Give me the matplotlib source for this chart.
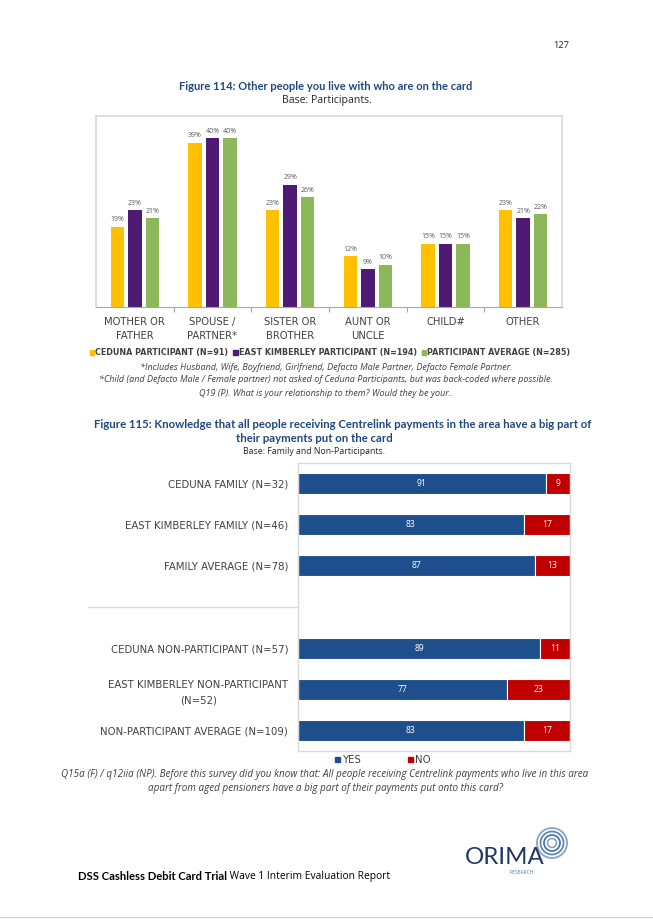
import matplotlib
matplotlib.use("Agg")
import matplotlib.pyplot as plt
from matplotlib.patches import Patch, Circle
import numpy as np

plt.rcParams['font.family'] = ['Open Sans', 'DejaVu Sans']
CAPS = ["DejaVu Sans"]
BOLD = ["Lato", "DejaVu Sans"]

# ---------------- data: Figure 114 ----------------
categories_114 = ["MOTHER OR\nFATHER", "SPOUSE /\nPARTNER*", "SISTER OR\nBROTHER",
                  "AUNT OR\nUNCLE", "CHILD#", "OTHER"]
ceduna_part = [19, 39, 23, 12, 15, 23]
ek_part = [23, 40, 29, 9, 15, 21]
part_avg = [21, 40, 26, 10, 15, 22]
series_114 = ["CEDUNA PARTICIPANT (N=91)", "EAST KIMBERLEY PARTICIPANT (N=194)",
              "PARTICIPANT AVERAGE (N=285)"]

# ---------------- data: Figure 115 ----------------
groups_115 = ["CEDUNA FAMILY (N=32)", "EAST KIMBERLEY FAMILY (N=46)", "FAMILY AVERAGE (N=78)",
              "CEDUNA NON-PARTICIPANT (N=57)", "EAST KIMBERLEY NON-PARTICIPANT\n(N=52)",
              "NON-PARTICIPANT AVERAGE (N=109)"]
slots_115 = [0, 1, 2, 4, 5, 6]
yes_115 = [91, 83, 87, 89, 77, 83]
no_115 = [9, 17, 13, 11, 23, 17]
series_115 = ["YES", "NO"]

W, H = 653, 923
fig = plt.figure(figsize=(W / 100, H / 100), dpi=100)
fig.patch.set_facecolor("white")
renderer = fig.canvas.get_renderer()

def px_axes(l, t, r, b):
    return fig.add_axes([l / W, 1 - b / H, (r - l) / W, (b - t) / H])

def fit(t, target):
    w = t.get_window_extent(renderer).width
    t.set_fontsize(t.get_fontsize() * target / w)
    return t

def scale_for(s, target, fs=7, **kw):
    t = fig.text(0, 0, s, fontsize=fs, **kw)
    w = t.get_window_extent(renderer).width
    t.remove()
    return fs * target / w

TITLE_C = "#1F497D"
GRID_C = "#D9D9D9"
TXT_C = "#404040"
YEL, PUR, GRN = "#FFC000", "#4E1A73", "#8DB85A"
BLUE, RED = "#1F4E8C", "#C00000"

cat_fs = scale_for("MOTHER OR", 62, family=CAPS)
row_fs = scale_for("NON-PARTICIPANT AVERAGE (N=109)", 188, family=CAPS)
val_fs = scale_for("39%", 14)
bar_fs = scale_for("91", 10)

# ---------------- Figure 114 chart ----------------
ax1 = px_axes(96, 116, 562, 307)
x = np.arange(len(categories_114))
bw = 0.175
offs = [-0.225, 0.0, 0.225]
cols = [YEL, PUR, GRN]
for vals, off, c in zip([ceduna_part, ek_part, part_avg], offs, cols):
    ax1.bar(x + off, vals, width=bw, color=c, zorder=2)
    for xi, v in zip(x + off, vals):
        ax1.annotate(f"{v}%", (xi, v), xytext=(0, 2.5), textcoords="offset points",
                     ha="center", va="bottom", fontsize=val_fs, color="#595959")
ax1.set_xlim(-0.5, len(categories_114) - 0.5)
ax1.set_ylim(0, 45.3)
ax1.set_yticks([])
ax1.set_xticks(x)
ax1.set_xticklabels(categories_114, fontsize=cat_fs, color=TXT_C, linespacing=1.55,
                    family=CAPS)
ax1.tick_params(axis="x", which="major", length=0, pad=7)
ax1.set_xticks(np.arange(0.5, len(categories_114) - 0.5, 1.0), minor=True)
ax1.tick_params(axis="x", which="minor", length=3.5, color="#A6A6A6", width=0.8, direction="out")
for s in ["top", "left", "right"]:
    ax1.spines[s].set_color(GRID_C)
    ax1.spines[s].set_linewidth(1.2)
ax1.spines["bottom"].set_color("#A6A6A6")
ax1.spines["bottom"].set_linewidth(0.8)

def make_leg1(fs):
    handles1 = [Patch(color=c, label=l) for c, l in zip(cols, series_114)]
    lg = fig.legend(handles=handles1, loc="center", bbox_to_anchor=(330 / W, 1 - 353 / H),
                    ncol=3, frameon=False, handlelength=0.55, handleheight=0.55,
                    prop={"family": CAPS, "size": fs, "weight": "bold"},
                    handletextpad=0.15, columnspacing=0.6, borderaxespad=0, borderpad=0)
    for t in lg.get_texts():
        t.set_color(TXT_C)
    return lg

leg1 = make_leg1(6.0)
w1 = leg1.get_window_extent(renderer).width
leg1.remove()
leg1 = make_leg1(6.0 * 485 / w1)

# ---------------- Figure 115 chart ----------------
ax2 = px_axes(298, 463, 570, 751)
ax2.barh(slots_115, yes_115, height=0.51, color=BLUE, edgecolor="white", linewidth=0.8, zorder=2)
ax2.barh(slots_115, no_115, left=yes_115, height=0.51, color=RED, edgecolor="white",
         linewidth=0.8, zorder=2)
for s, yv, nv in zip(slots_115, yes_115, no_115):
    ax2.text(yv / 2, s, f"{yv}", ha="center", va="center", color="white", fontsize=bar_fs)
    ax2.text(yv + nv / 2, s, f"{nv}", ha="center", va="center", color="white", fontsize=bar_fs)
ax2.set_xlim(0, 100)
ax2.set_ylim(6.5, -0.5)
ax2.set_xticks([])
ax2.set_yticks(slots_115)
ax2.set_yticklabels(groups_115, fontsize=row_fs, color=TXT_C, linespacing=1.6, family=CAPS)
for lbl in ax2.get_yticklabels():
    lbl.set_multialignment("center")
ax2.tick_params(axis="y", length=0, pad=7)
for s in ax2.spines.values():
    s.set_color(GRID_C)
    s.set_linewidth(1.0)

handles2 = [Patch(color=c, label=l) for c, l in zip([BLUE, RED], series_115)]
leg2 = fig.legend(handles=handles2, loc="center", bbox_to_anchor=(383 / W, 1 - 760 / H),
                  ncol=2, frameon=False, prop={"family": CAPS, "size": row_fs},
                  handlelength=0.5, handleheight=0.5,
                  handletextpad=0.25, columnspacing=4.6, borderaxespad=0, borderpad=0)
for t in leg2.get_texts():
    t.set_color(TXT_C)

# ---------------- page overlay (texts & decorations) ----------------
ov = fig.add_axes([0, 0, 1, 1], facecolor="none")
ov.set_xlim(0, W)
ov.set_ylim(H, 0)
ov.axis("off")

fit(ov.text(561, 45, "127", ha="center", va="center", fontsize=7.5, color="#262626"), 16)

fit(ov.text(326, 86, "Figure 114: Other people you live with who are on the card", ha="center",
            va="center", fontsize=7, fontweight="bold", color=TITLE_C, family=BOLD), 296)
fit(ov.text(327, 100, "Base: Participants.", ha="center", va="center", fontsize=6.3,
            color="#262626"), 90)

notes_114 = ["*Includes Husband, Wife, Boyfriend, Girlfriend, Defacto Male Partner, Defacto Female Partner.",
             "*Child (and Defacto Male / Female partner) not asked of Ceduna Participants, but was back-coded where possible.",
             "Q19 (P). What is your relationship to them? Would they be your.."]
note_fs = scale_for(notes_114[1], 453, style="italic")
for i, n in enumerate(notes_114):
    ov.text(326, 367 + 13 * i, n, ha="center", va="center", fontsize=note_fs, style="italic",
            color=TXT_C)

t115a = ov.text(343, 425, "Figure 115: Knowledge that all people receiving Centrelink payments in the area have a big part of",
                ha="center", va="center", fontsize=7, fontweight="bold", color=TITLE_C,
                family=BOLD)
fit(t115a, 503)
ov.text(314, 439, "their payments put on the card", ha="center", va="center",
        fontsize=t115a.get_fontsize(), fontweight="bold", color=TITLE_C, family=BOLD)
fit(ov.text(314, 452, "Base: Family and Non-Participants.", ha="center", va="center",
            fontsize=6.3, color="#262626"), 142)

ov.plot([88, 298], [607, 607], color=GRID_C, lw=1.0)

notes_115 = ["Q15a (F) / q12iia (NP). Before this survey did you know that: All people receiving Centrelink payments who live in this area",
             "apart from aged pensioners have a big part of their payments put onto this card?"]
n115_fs = scale_for(notes_115[0], 526, style="italic")
for i, n in enumerate(notes_115):
    ov.text(325, 775 + 13.5 * i, n, ha="center", va="center", fontsize=n115_fs, style="italic",
            color=TXT_C)

foot_fs = scale_for("DSS Cashless Debit Card Trial", 150, fontweight="bold", family=BOLD)
bold_t = ov.text(78, 877, "DSS Cashless Debit Card Trial", ha="left", va="center",
                 fontsize=foot_fs, fontweight="bold", color="black", family=BOLD)
reg_t = ov.annotate(" Wave 1 Interim Evaluation Report", xy=(1, 0.5), xycoords=bold_t,
                    ha="left", va="center", fontsize=7, color="black")
fit(reg_t, 164)

# logo
for r, lw, c in [(15, 1.4, "#8AAAC8"), (11.5, 1.3, "#5C88B3"), (8, 1.3, "#4A78A6"), (4.5, 1.1, "#7FA0C2")]:
    ov.add_patch(Circle((552, 843), r, fill=False, lw=lw, ec=c))
fit(ov.text(505, 858, "ORIMA", ha="center", va="center", fontsize=13, color="#1F3864",
            family=["Lato", "DejaVu Sans"]), 79)
ov.text(522, 873, "RESEARCH", ha="center", va="center", fontsize=3.6, color="#4A78A6")

ov.plot([0, W], [917, 917], color="#D0D0D0", lw=0.8)

fig.savefig("out.png", dpi=100, facecolor="white")
